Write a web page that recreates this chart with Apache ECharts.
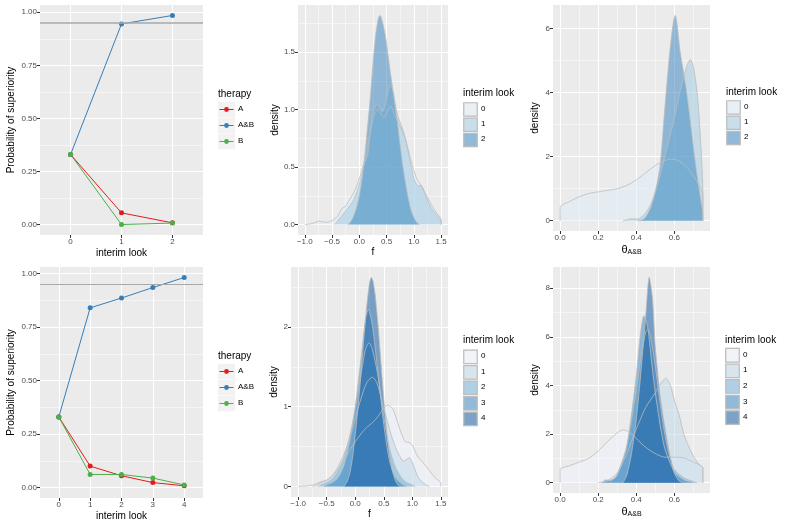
<!DOCTYPE html>
<html><head><meta charset="utf-8">
<script src="https://cdn.jsdelivr.net/npm/echarts@6/dist/echarts.min.js"></script>
<style>html,body{margin:0;padding:0;background:#fff}#c{width:787px;height:525px}</style>
</head><body><div id="c"></div>
<script>
const FONT = '"Liberation Sans", Arial, sans-serif';

// ---------- data: probability panels ----------
const therapies = ['A', 'A&B', 'B'];
const looksTop = [0, 1, 2];
const looksBottom = [0, 1, 2, 3, 4];
const probTopA  = [0.33, 0.055, 0.008];
const probTopAB = [0.33, 0.945, 0.985];
const probTopB  = [0.33, 0.0, 0.007];
const probBotA  = [0.33, 0.100, 0.055, 0.023, 0.008];
const probBotAB = [0.33, 0.840, 0.886, 0.935, 0.982];
const probBotB  = [0.33, 0.061, 0.061, 0.044, 0.012];
const threshold = 0.95;

// ---------- data: density curves [x, density] ----------
const fTop0 = [[-1.0,0],[-0.9,0.005],[-0.8,0.02],[-0.75,0.03],[-0.7,0.025],[-0.6,0.02],[-0.5,0.035],[-0.4,0.07],[-0.32,0.14],[-0.25,0.16],[-0.2,0.2],[-0.1,0.28],[0.0,0.4],[0.1,0.57],[0.2,0.8],[0.27,0.95],[0.33,1.0],[0.4,0.96],[0.45,0.93],[0.5,0.97],[0.57,1.03],[0.65,0.95],[0.75,0.85],[0.85,0.73],[0.95,0.55],[1.05,0.4],[1.12,0.35],[1.2,0.28],[1.3,0.19],[1.4,0.11],[1.5,0.04],[1.5,0]];
const fTop1 = [[-0.45,0],[-0.4,0.03],[-0.3,0.09],[-0.25,0.12],[-0.2,0.15],[-0.1,0.22],[0.0,0.35],[0.1,0.54],[0.15,0.6],[0.2,0.8],[0.25,0.97],[0.33,1.05],[0.42,0.98],[0.5,1.1],[0.57,1.22],[0.62,1.15],[0.7,0.95],[0.78,0.85],[0.85,0.74],[0.93,0.55],[1.0,0.4],[1.07,0.34],[1.13,0.34],[1.2,0.27],[1.3,0.16],[1.4,0.09],[1.5,0.03],[1.5,0]];
const fTop2 = [[-0.2,0],[-0.15,0.03],[-0.1,0.08],[-0.05,0.15],[0.0,0.25],[0.05,0.4],[0.1,0.6],[0.15,0.85],[0.2,1.1],[0.25,1.4],[0.3,1.65],[0.35,1.8],[0.38,1.82],[0.42,1.77],[0.47,1.66],[0.52,1.5],[0.56,1.35],[0.6,1.22],[0.65,1.05],[0.7,0.88],[0.75,0.68],[0.8,0.5],[0.85,0.35],[0.9,0.22],[0.95,0.12],[1.0,0.06],[1.05,0.02],[1.1,0]];

const thTop0 = [[0,0],[0,0.42],[0.05,0.6],[0.1,0.75],[0.15,0.85],[0.2,0.9],[0.25,0.95],[0.3,1.0],[0.35,1.1],[0.4,1.27],[0.45,1.5],[0.5,1.72],[0.55,1.88],[0.58,1.92],[0.62,1.88],[0.66,1.7],[0.7,1.4],[0.73,1.1],[0.75,0.8],[0.75,0]];
const thTop1 = [[0.33,0],[0.35,0.03],[0.375,0.06],[0.4,0.05],[0.42,0.08],[0.45,0.25],[0.475,0.5],[0.5,0.9],[0.525,1.4],[0.55,2.0],[0.575,2.6],[0.6,3.2],[0.625,3.9],[0.65,4.5],[0.67,4.9],[0.685,5.03],[0.7,4.8],[0.72,4.0],[0.735,2.8],[0.75,0.9],[0.75,0]];
const thTop2 = [[0.41,0],[0.43,0.02],[0.45,0.12],[0.475,0.4],[0.5,0.9],[0.525,1.7],[0.55,3.5],[0.575,5.2],[0.595,6.2],[0.605,6.41],[0.615,6.1],[0.63,5.3],[0.645,4.75],[0.66,4.2],[0.68,3.3],[0.7,2.3],[0.72,1.4],[0.74,0.6],[0.75,0.2],[0.75,0]];

const fBot0 = [[-1.0,0],[-0.9,0.005],[-0.8,0.01],[-0.7,0.03],[-0.6,0.06],[-0.5,0.08],[-0.4,0.13],[-0.3,0.22],[-0.2,0.32],[-0.1,0.45],[0.0,0.56],[0.1,0.66],[0.2,0.74],[0.3,0.8],[0.4,0.88],[0.5,0.98],[0.57,1.02],[0.65,0.98],[0.7,0.9],[0.8,0.68],[0.88,0.56],[0.95,0.55],[1.0,0.52],[1.05,0.44],[1.1,0.37],[1.2,0.29],[1.3,0.2],[1.4,0.11],[1.5,0.04],[1.5,0]];
const fBot1 = [[-0.75,0],[-0.7,0.01],[-0.6,0.05],[-0.5,0.08],[-0.4,0.14],[-0.3,0.25],[-0.2,0.4],[-0.1,0.6],[0.0,0.85],[0.1,1.1],[0.2,1.3],[0.3,1.37],[0.38,1.3],[0.45,1.12],[0.5,0.98],[0.57,0.8],[0.65,0.6],[0.75,0.42],[0.85,0.32],[0.95,0.36],[1.0,0.3],[1.1,0.12],[1.2,0.04],[1.3,0]];
const fBot2 = [[-0.65,0],[-0.6,0.02],[-0.5,0.05],[-0.4,0.1],[-0.3,0.2],[-0.2,0.36],[-0.1,0.62],[0.0,0.98],[0.1,1.4],[0.18,1.72],[0.24,1.8],[0.3,1.72],[0.4,1.38],[0.5,0.88],[0.6,0.48],[0.7,0.25],[0.8,0.12],[0.9,0.05],[1.0,0.02],[1.05,0]];
const fBot3 = [[-0.55,0],[-0.5,0.02],[-0.4,0.05],[-0.3,0.11],[-0.2,0.26],[-0.1,0.55],[0.0,1.0],[0.1,1.6],[0.18,2.1],[0.23,2.22],[0.3,2.02],[0.4,1.42],[0.5,0.78],[0.6,0.32],[0.7,0.12],[0.8,0.04],[0.9,0]];
const fBot4 = [[-0.2,0],[-0.15,0.05],[-0.1,0.15],[-0.05,0.35],[0.0,0.65],[0.05,1.0],[0.1,1.4],[0.15,1.85],[0.2,2.25],[0.25,2.55],[0.28,2.62],[0.31,2.58],[0.35,2.4],[0.4,2.02],[0.45,1.56],[0.5,1.1],[0.55,0.7],[0.6,0.4],[0.65,0.2],[0.7,0.08],[0.75,0.02],[0.8,0]];

const thBot0 = [[0,0],[0,0.55],[0.05,0.7],[0.1,0.85],[0.15,1.0],[0.2,1.3],[0.25,1.7],[0.3,2.05],[0.33,2.17],[0.36,2.1],[0.4,1.82],[0.45,1.45],[0.5,1.2],[0.55,1.05],[0.6,1.05],[0.65,1.02],[0.7,0.85],[0.75,0.6],[0.75,0]];
const thBot1 = [[0.2,0],[0.25,0.1],[0.3,0.4],[0.35,1.2],[0.4,2.2],[0.45,3.1],[0.5,3.7],[0.53,4.1],[0.555,4.3],[0.58,4.0],[0.6,3.4],[0.625,2.8],[0.65,2.0],[0.675,1.5],[0.7,1.1],[0.725,0.8],[0.75,0.6],[0.75,0]];
const thBot2 = [[0.22,0],[0.25,0.08],[0.28,0.15],[0.3,0.35],[0.35,1.5],[0.4,3.8],[0.425,5.2],[0.45,6.2],[0.46,6.3],[0.475,6.0],[0.5,4.8],[0.525,3.3],[0.55,2.0],[0.575,1.1],[0.6,0.55],[0.65,0.2],[0.7,0.05],[0.72,0]];
const thBot3 = [[0.22,0],[0.24,0.12],[0.26,0.08],[0.3,0.3],[0.35,1.5],[0.4,4.4],[0.42,6.0],[0.44,6.87],[0.46,6.4],[0.48,5.0],[0.5,3.7],[0.525,2.4],[0.55,1.4],[0.6,0.45],[0.65,0.12],[0.7,0]];
const thBot4 = [[0.33,0],[0.35,0.3],[0.375,1.2],[0.4,2.6],[0.425,4.6],[0.45,6.9],[0.468,8.45],[0.485,7.6],[0.5,5.6],[0.525,3.6],[0.55,2.3],[0.575,1.2],[0.6,0.4],[0.625,0.08],[0.65,0]];

// ---------- tick labels ----------
const probTicks = [0, 0.25, 0.5, 0.75, 1];
const probMinor = [0.125, 0.375, 0.625, 0.875];
const fTicks = [-1, -0.5, 0, 0.5, 1, 1.5];
const fMinor = [-0.75, -0.25, 0.25, 0.75, 1.25];
const thTicks = [0, 0.2, 0.4, 0.6];
const thMinor = [0.1, 0.3, 0.5, 0.7];
const dTopFTicks = [0, 0.5, 1, 1.5], dTopFMinor = [0.25, 0.75, 1.25, 1.75];
const dTopThTicks = [0, 2, 4, 6], dTopThMinor = [1, 3, 5];
const dBotFTicks = [0, 1, 2], dBotFMinor = [0.5, 1.5, 2.5];
const dBotThTicks = [0, 2, 4, 6, 8], dBotThMinor = [1, 3, 5, 7];

// ---------- styles ----------
const setColors = ['#E41A1C', '#377EB8', '#4DAF4A'];
const blues3 = ['#DEEBF7', '#9ECAE1', '#3182BD'];
const blues5 = ['#EFF3FF', '#BDD7E7', '#6BAED6', '#3182BD', '#08519C'];
const OUTLINE = '#BDBDBD';

const grids = [], xAxes = [], yAxes = [], series = [], graphics = [];

function fmtMinus(s) { return s.replace('-', '\u2212'); }

function majorAxis(gi, c) {
  return {
    type: 'value', gridIndex: gi, min: c.min, max: c.max, position: c.pos,
    axisLine: { show: false, onZero: false },
    axisTick: { show: true, customValues: c.major, length: 3, lineStyle: { color: '#333333', width: 1 } },
    axisLabel: { show: true, customValues: c.major, formatter: c.fmt, color: '#4D4D4D', fontSize: 8, fontFamily: FONT, margin: 3 },
    splitLine: { show: true, lineStyle: { color: '#FFFFFF', width: 1.1 } },
    minorTick: { show: false }, minorSplitLine: { show: false },
    name: c.name, nameLocation: 'middle', nameGap: c.gap,
    nameTextStyle: { color: '#000', fontSize: 10, fontFamily: FONT, rich: c.rich || {} }
  };
}
function minorAxis(gi, c) {
  return {
    type: 'value', gridIndex: gi, min: c.min, max: c.max, position: c.pos,
    axisLine: { show: false, onZero: false },
    axisTick: { show: false, customValues: c.minor },
    axisLabel: { show: false, customValues: c.minor },
    splitLine: { show: true, lineStyle: { color: '#FFFFFF', width: 0.5 } }
  };
}
function panel(rect, xc, yc) {
  const gi = grids.length;
  grids.push({ left: rect[0], top: rect[1], width: rect[2], height: rect[3], show: true,
    backgroundColor: '#EBEBEB', borderWidth: 0 });
  const xi = xAxes.length, yi = yAxes.length;
  xc.pos = 'bottom'; yc.pos = 'left';
  xAxes.push(majorAxis(gi, xc), minorAxis(gi, xc));
  yAxes.push(majorAxis(gi, yc), minorAxis(gi, yc));
  return { x: xi, y: yi };
}
function padRange(lo, hi) { const d = (hi - lo) * 0.05; return [lo - d, hi + d]; }
function maxOf(curves) { return Math.max(...curves.map(c => Math.max(...c.map(p => p[1])))); }
function minX(curves) { return Math.min(...curves.map(c => Math.min(...c.map(p => p[0])))); }
function maxX(curves) { return Math.max(...curves.map(c => Math.max(...c.map(p => p[0])))); }

// ---------- probability panels ----------
function probPanel(rect, looks, A, AB, B, thrWidth) {
  const yr = padRange(0, Math.max(...A, ...AB, ...B));
  const ax = panel(rect,
    { min: looks[0] - 0.6, max: looks[looks.length - 1] + 0.6, major: looks, minor: [], fmt: v => String(v),
      name: 'interim look', gap: 13 },
    { min: yr[0], max: yr[1], major: probTicks, minor: probMinor, fmt: v => v.toFixed(2),
      name: 'Probability of superiority', gap: 24 });
  [A, AB, B].forEach((vals, k) => {
    const s = {
      type: 'line', name: therapies[k], xAxisIndex: ax.x, yAxisIndex: ax.y,
      data: looks.map((x, i) => [x, vals[i]]),
      symbol: 'circle', symbolSize: 5, showSymbol: true,
      lineStyle: { color: setColors[k], width: 1 }, itemStyle: { color: setColors[k] },
      animation: false, silent: true
    };
    if (k === 1) s.markLine = { silent: true, symbol: 'none', label: { show: false },
      lineStyle: { color: '#A9A9A9', width: thrWidth, type: 'solid' }, data: [{ yAxis: threshold }], animation: false };
    series.push(s);
  });
}

// ---------- density panels ----------
function densityPanel(rect, curves, palette, xc, yc) {
  const xr = padRange(minX(curves), maxX(curves));
  const yr = padRange(0, maxOf(curves));
  const ax = panel(rect, Object.assign({ min: xr[0], max: xr[1] }, xc), Object.assign({ min: yr[0], max: yr[1] }, yc));
  curves.forEach((c, k) => {
    series.push({
      type: 'line', name: 'look' + k, xAxisIndex: ax.x, yAxisIndex: ax.y, data: c,
      symbol: 'none', showSymbol: false, smooth: 0.25,
      lineStyle: { color: OUTLINE, width: 0.8 },
      areaStyle: { color: palette[k], opacity: 0.5 },
      animation: false, silent: true
    });
  });
}

const thetaName = { name: '{t|\u03B8}{s|A&B}', rich: {
  t: { fontSize: 11, fontFamily: FONT, color: '#000' },
  s: { fontSize: 7, fontFamily: FONT, color: '#000', padding: [6, 0, 0, 0] } } };

probPanel([40, 5, 163, 230], looksTop, probTopA, probTopAB, probTopB, 1.6);
densityPanel([298, 5, 150, 230], [fTop0, fTop1, fTop2], blues3,
  { major: fTicks, minor: fMinor, fmt: v => fmtMinus(v.toFixed(1)), name: 'f', gap: 11 },
  { major: dTopFTicks, minor: dTopFMinor, fmt: v => v.toFixed(1), name: 'density', gap: 18 });
densityPanel([553, 5, 157, 226], [thTop0, thTop1, thTop2], blues3,
  { major: thTicks, minor: thMinor, fmt: v => v.toFixed(1), name: thetaName.name, rich: thetaName.rich, gap: 12 },
  { major: dTopThTicks, minor: dTopThMinor, fmt: v => String(v), name: 'density', gap: 13 });
probPanel([40, 267, 163, 231], looksBottom, probBotA, probBotAB, probBotB, 1.1);
densityPanel([291, 267, 157, 230], [fBot0, fBot1, fBot2, fBot3, fBot4], blues5,
  { major: fTicks, minor: fMinor, fmt: v => fmtMinus(v.toFixed(1)), name: 'f', gap: 11 },
  { major: dBotFTicks, minor: dBotFMinor, fmt: v => String(v), name: 'density', gap: 11 });
densityPanel([553, 267, 157, 226], [thBot0, thBot1, thBot2, thBot3, thBot4], blues5,
  { major: thTicks, minor: thMinor, fmt: v => v.toFixed(1), name: thetaName.name, rich: thetaName.rich, gap: 12 },
  { major: dBotThTicks, minor: dBotThMinor, fmt: v => String(v), name: 'density', gap: 13 });

// ---------- legends (drawn as graphics) ----------
function hexToRgba(hex, a) {
  const n = parseInt(hex.slice(1), 16);
  return 'rgba(' + ((n >> 16) & 255) + ',' + ((n >> 8) & 255) + ',' + (n & 255) + ',' + a + ')';
}
function therapyLegend(x, yTitle) {
  graphics.push({ type: 'text', left: x, top: yTitle - 6, style: { text: 'therapy', fontSize: 10, fontFamily: FONT, fill: '#000' } });
  therapies.forEach((t, i) => {
    const cy = yTitle + 14.5 + 16 * i;
    graphics.push({ type: 'rect', shape: { x: x, y: cy - 7.75, width: 17, height: 15.5 }, style: { fill: '#F2F2F2' } });
    graphics.push({ type: 'line', shape: { x1: x + 1.5, y1: cy, x2: x + 15.5, y2: cy }, style: { stroke: setColors[i], lineWidth: 1 } });
    graphics.push({ type: 'circle', shape: { cx: x + 8.5, cy: cy, r: 2.4 }, style: { fill: setColors[i] } });
    graphics.push({ type: 'text', left: x + 20, top: cy - 5, style: { text: t, fontSize: 8, fontFamily: FONT, fill: '#000' } });
  });
}
function lookLegend(x, yTitle, yStart, stride, palette) {
  graphics.push({ type: 'text', left: x, top: yTitle - 6, style: { text: 'interim look', fontSize: 10, fontFamily: FONT, fill: '#000' } });
  palette.forEach((c, i) => {
    const y0 = yStart + stride * i;
    graphics.push({ type: 'rect', shape: { x: x, y: y0, width: 15, height: stride - 0.5 }, style: { fill: '#F2F2F2' } });
    graphics.push({ type: 'rect', shape: { x: x + 0.75, y: y0 + 0.75, width: 13.5, height: stride - 2 },
      style: { fill: hexToRgba(c, 0.5), stroke: OUTLINE, lineWidth: 1.2 } });
    graphics.push({ type: 'text', left: x + 18, top: y0 + stride / 2 - 5, style: { text: String(i), fontSize: 8, fontFamily: FONT, fill: '#000' } });
  });
}
therapyLegend(218, 95);
therapyLegend(218, 357);
lookLegend(463, 94.5, 102, 15.3, blues3);
lookLegend(726, 93, 100, 15.3, blues3);
lookLegend(463, 341, 349.3, 15.5, blues5);
lookLegend(725, 341, 347.7, 15.6, blues5);

const chart = echarts.init(document.getElementById('c'), null, { renderer: 'canvas' });
chart.setOption({
  animation: false,
  backgroundColor: '#FFFFFF',
  grid: grids, xAxis: xAxes, yAxis: yAxes, series: series, graphic: graphics
});
</script></body></html>
